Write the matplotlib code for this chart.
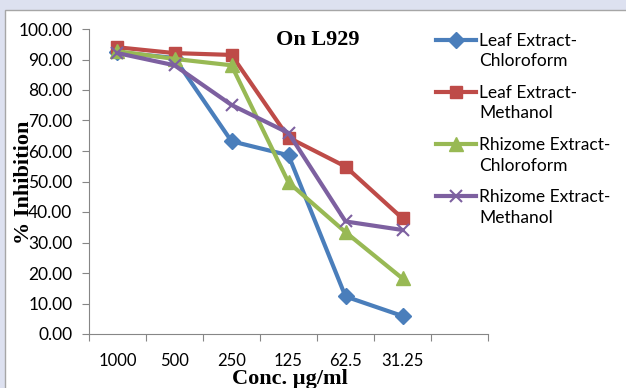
import numpy as np
import matplotlib.pyplot as plt
from matplotlib.patches import Rectangle

categories = ["1000", "500", "250", "125", "62.5", "31.25"]
leaf_chloroform = [92.4, 90.5, 63.2, 58.6, 12.3, 5.9]
leaf_methanol = [94.0, 92.1, 91.5, 64.4, 54.9, 37.9]
rhizome_chloroform = [92.7, 90.2, 88.1, 49.7, 33.4, 18.2]
rhizome_methanol = [92.1, 88.1, 75.1, 65.9, 36.9, 34.1]
series_names = ["Leaf Extract-\nChloroform", "Leaf Extract-\nMethanol",
                "Rhizome Extract-\nChloroform", "Rhizome Extract-\nMethanol"]
yticks = np.arange(0, 101, 10)

fig = plt.figure(figsize=(6.26, 3.88), dpi=100)
fig.patch.set_facecolor("#dde1f0")
# white chart area with grey frame
fig.patches.append(Rectangle((5 / 626, -0.05), 1.0, 1 - 10 / 388 + 0.05,
                             transform=fig.transFigure, facecolor="white",
                             edgecolor="#a6a6a6", linewidth=1, zorder=-5))

ax = fig.add_axes([89 / 626, 1 - 334 / 388, (488 - 89) / 626, (334 - 29) / 388])
ax.set_facecolor("none")

x = np.arange(len(categories))
styles = [
    (leaf_chloroform, "#4a7ebb", "D", 8),
    (leaf_methanol, "#be4b48", "s", 9),
    (rhizome_chloroform, "#98b954", "^", 10),
    (rhizome_methanol, "#7d60a0", "x", 9),
]
for (vals, col, mk, ms), name in zip(styles, series_names):
    ax.plot(x, vals, color=col, lw=3, marker=mk, ms=ms, mew=1.5 if mk == "x" else 1,
            mec=col, mfc=col, label=name)

ax.set_xlim(-0.5, 6.5)
ax.set_ylim(0, 100)
ax.set_xticks(np.arange(-0.5, 7, 1))
ax.set_xticklabels([])
ax.set_xticks(x, minor=True)
ax.set_xticklabels(categories, minor=True, fontsize=12, family="Lato")
ax.tick_params(axis="x", which="minor", length=0, pad=14)
ax.tick_params(axis="x", which="major", length=5, color="#868686")
ax.set_yticks(yticks)
ax.set_yticklabels([f"{v:.2f}" for v in yticks], fontsize=12.5, family="Lato")
ax.tick_params(axis="y", length=5, color="#868686", pad=7)
for s in ["top", "right"]:
    ax.spines[s].set_visible(False)
for s in ["left", "bottom"]:
    ax.spines[s].set_color("#868686")

fig.text(318 / 626, 1 - 40 / 388, "On L929", ha="center", va="center",
         family="Liberation Serif", weight="bold", fontsize=16)
fig.text(24 / 626, 1 - 182 / 388, "% Inhibition", ha="center", va="center", rotation=90,
         family="Liberation Serif", weight="bold", fontsize=16)
fig.text(290 / 626, 1 - 379 / 388, "Conc. µg/ml", ha="center", va="center",
         family="Liberation Serif", weight="bold", fontsize=16)

leg = ax.legend(loc="upper left", bbox_to_anchor=(420 / 626, 1 - 17 / 388),
                bbox_transform=fig.transFigure, frameon=False, handlelength=2.3,
                handleheight=1.1, handletextpad=0.2, labelspacing=0.9,
                prop={"family": "Lato", "size": 12.5})
for t in leg.get_texts():
    t.set_linespacing(1.35)
# keep each legend marker level with the first line of its label
for col in leg._legend_handle_box.get_children():
    for row in col.get_children():
        row.align = "top"

fig.savefig("out.png", dpi=100)
